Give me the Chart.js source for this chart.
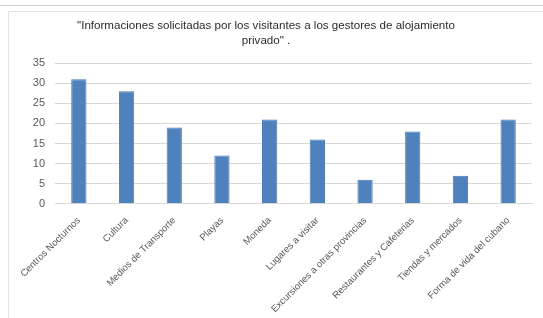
<!DOCTYPE html>
<html>
<head>
<meta charset="utf-8">
<script src="https://cdn.jsdelivr.net/npm/chart.js@4"></script>
<style>
  html, body { margin: 0; padding: 0; background: #fff; }
  #wrap { width: 543px; height: 318px; position: relative; }
</style>
</head>
<body>
<div id="wrap"><canvas id="infoChart"></canvas></div>
<script>
// datos
const categorias = ['Centros Nocturnos', 'Cultura', 'Medios de Transporte', 'Playas', 'Moneda',
  'Lugares a visitar', 'Excursiones a otras provincias', 'Restaurantes y Cafeterias',
  'Tiendas y mercados', 'Forma de vida del cubano'];
const solicitudes = [31, 28, 19, 12, 21, 16, 6, 18, 7, 21];
const tituloLineas = ['"Informaciones solicitadas por los visitantes a los gestores de alojamiento', 'privado" .'];

// marco del grafico
const marco = {
  id: 'marco',
  beforeDraw(chart) {
    const c = chart.ctx;
    c.save();
    c.strokeStyle = '#e3e3e3';
    c.lineWidth = 1;
    c.beginPath();
    c.moveTo(8.5, 318);
    c.lineTo(8.5, 11.5);
    c.lineTo(543, 11.5);
    c.stroke();
    c.strokeStyle = '#d0d0d0';
    c.beginPath();
    c.moveTo(0, 5.5);
    c.lineTo(543, 5.5);
    c.stroke();
    c.restore();
  }
};

document.addEventListener("DOMContentLoaded", function () {
  const ctx = document.getElementById('infoChart').getContext('2d');
  new Chart(ctx, {
    type: 'bar',
    data: {
      labels: categorias,
      datasets: [{
        data: solicitudes,
        backgroundColor: '#4f81bd',
        borderColor: '#4a7ab5',
        borderWidth: 1,
        categoryPercentage: 1,
        barPercentage: 0.32
      }]
    },
    options: {
      responsive: true,
      maintainAspectRatio: false,
      animation: false,
      layout: { padding: { left: 0, right: 11, top: 10, bottom: 0 } },
      plugins: {
        legend: { display: false },
        tooltip: { enabled: false },
        title: {
          display: true,
          text: tituloLineas,
          color: '#2b2b2b',
          font: { family: 'Liberation Sans', size: 11.6, weight: 'normal', lineHeight: 1.3 },
          padding: { top: 8, bottom: 15 }
        }
      },
      scales: {
        x: {
          grid: { display: false },
          border: { color: '#d9d9d9' },
          ticks: {
            color: '#595959',
            font: { family: 'Liberation Sans', size: 9.6 },
            maxRotation: 45,
            minRotation: 45,
            autoSkip: false
          }
        },
        y: {
          min: 0,
          max: 35,
          border: { display: false },
          grid: { color: '#d9d9d9', drawTicks: false },
          afterFit(scale) { scale.width = 55; },
          ticks: {
            stepSize: 5,
            color: '#595959',
            font: { family: 'Liberation Sans', size: 11 },
            padding: 10
          }
        }
      }
    },
    plugins: [marco]
  });
});
</script>
</body>
</html>
